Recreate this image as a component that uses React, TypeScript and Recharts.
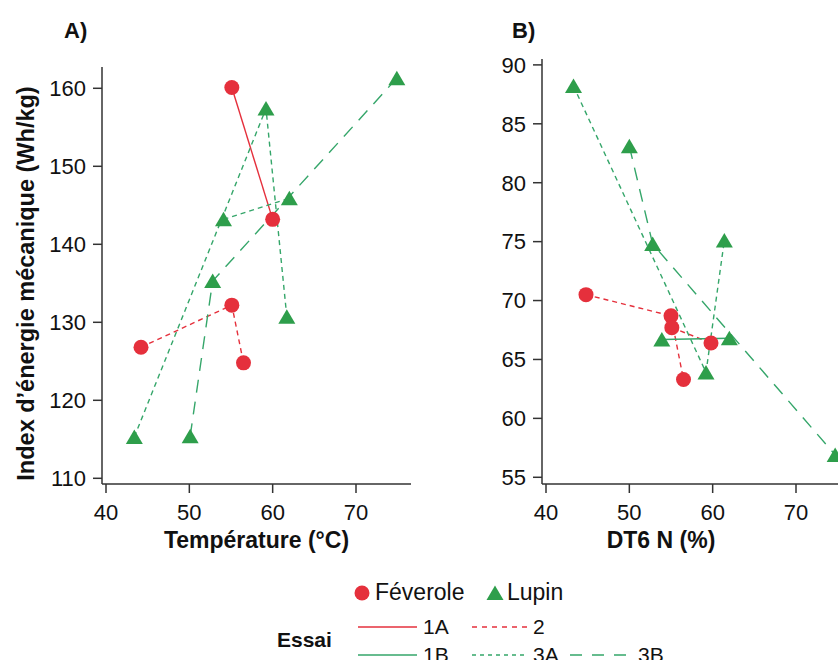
import { ScatterChart, Scatter, XAxis, YAxis } from "recharts";

// Féverole : 5 points, Lupin : 8 points (même ordre dans chaque tableau)
const feveroleTemp = [44.2, 55.1, 55.1, 56.5, 60.0];
const feveroleIndex = [126.8, 132.2, 160.1, 124.8, 143.2];
const feveroleDt6 = [44.8, 55.0, 55.1, 56.5, 59.8];
const feveroleB = [70.5, 68.7, 67.7, 63.3, 66.4];

const lupinTemp = [43.4, 50.1, 52.8, 54.1, 59.2, 61.7, 62.0, 74.9];
const lupinIndex = [115.3, 115.4, 135.3, 143.2, 157.4, 130.7, 145.9, 161.3];
const lupinDt6 = [43.3, 50.0, 52.8, 53.9, 59.2, 61.4, 62.0, 74.7];
const lupinB = [88.2, 83.1, 74.8, 66.7, 63.9, 75.1, 66.8, 56.9];

// essais : indices des points reliés
const essai1A = [2, 4];
const essai2 = [0, 1, 3];
const essai1B = [3, 6];
const essai3A = [0, 4, 5];
const essai3B = [1, 2, 7];

const xTicks = [40, 50, 60, 70];
const indexTicks = [110, 120, 130, 140, 150, 160];
const bTicks = [55, 60, 65, 70, 75, 80, 85, 90];

const RED = "#e5303c";
const GREEN = "#2e9e4b";
const GREEN_LINE = "#35a66a";
const AXIS = "#333";
const FONT = '"Liberation Sans", Arial, Helvetica, sans-serif';

const SOLID = undefined;
const SHORT = "5 4";
const LONG = "13 9";

const pts = (xs: number[], ys: number[], idx?: number[]) =>
  (idx ?? xs.map((_, i) => i)).map((i) => ({ x: xs[i], y: ys[i] }));

const Circle = (p: any) => <circle cx={p.cx} cy={p.cy} r={7.5} fill={RED} />;
const Tri = (p: any) => (
  <polygon points={`${p.cx},${p.cy - 7.5} ${p.cx + 8.5},${p.cy + 7} ${p.cx - 8.5},${p.cy + 7}`} fill={GREEN} />
);
const Nothing = () => <g />;

function XTitle({ viewBox, value, dx = 0 }: any) {
  const x = (viewBox?.x ?? 102) + (viewBox?.width ?? 309) / 2 + dx;
  const y = (viewBox?.y ?? 484) + 64;
  return (
    <text x={x} y={y} textAnchor="middle" fontSize={23} fontWeight="bold" fontFamily={FONT} fill="#111">
      {value}
    </text>
  );
}

function YTitle({ viewBox, value }: any) {
  const x = (viewBox?.x ?? 0) + 34;
  const y = (viewBox?.y ?? 67) + (viewBox?.height ?? 417) / 2 + 8;
  return (
    <text x={x} y={y} transform={`rotate(-90 ${x} ${y})`} textAnchor="middle" fontSize={23.5} fontWeight="bold" fontFamily={FONT} fill="#111">
      {value}
    </text>
  );
}

interface PanelProps {
  fx: number[];
  fy: number[];
  lx: number[];
  ly: number[];
  yDomain: [number, number];
  yTicks: number[];
  top: number;
  height: number;
  xTitle: any;
  yTitle?: any;
  styles: Record<string, string | undefined>;
}

function Panel({ fx, fy, lx, ly, yDomain, yTicks, top, height, xTitle, yTitle, styles }: PanelProps) {
  const lines = [
    { key: "1A", data: pts(fx, fy, essai1A), color: RED },
    { key: "2", data: pts(fx, fy, essai2), color: RED },
    { key: "1B", data: pts(lx, ly, essai1B), color: GREEN_LINE },
    { key: "3A", data: pts(lx, ly, essai3A), color: GREEN_LINE },
    { key: "3B", data: pts(lx, ly, essai3B), color: GREEN_LINE },
  ];
  const tick = { fill: "#111", fontSize: 22, fontFamily: FONT };
  return (
    <ScatterChart width={421} height={top + height + 80} margin={{ top, right: 10, left: 0, bottom: 0 }}>
      <XAxis
        type="number"
        dataKey="x"
        domain={[39.52, 76.6]}
        ticks={xTicks}
        tickSize={9}
        tickMargin={11}
        height={80}
        tick={tick}
        stroke={AXIS}
        strokeWidth={1.5}
        label={xTitle}
      />
      <YAxis
        type="number"
        dataKey="y"
        domain={yDomain}
        ticks={yTicks}
        tickSize={9}
        tickMargin={7}
        width={102}
        tick={tick}
        stroke={AXIS}
        strokeWidth={1.5}
        label={yTitle}
      />
      {lines.map((l) => (
        <Scatter
          key={l.key}
          data={l.data}
          fill={l.color}
          line={{ stroke: l.color, strokeWidth: 1.4, strokeDasharray: styles[l.key] }}
          shape={Nothing}
          isAnimationActive={false}
        />
      ))}
      <Scatter data={pts(lx, ly)} shape={Tri} isAnimationActive={false} />
      <Scatter data={pts(fx, fy)} shape={Circle} isAnimationActive={false} />
    </ScatterChart>
  );
}

const stylesA = { "1A": SOLID, "2": SHORT, "1B": SHORT, "3A": SHORT, "3B": LONG };
const stylesB = { "1A": SHORT, "2": SHORT, "1B": SOLID, "3A": SHORT, "3B": LONG };

export default function App() {
  const txt = { fontFamily: FONT, fill: "#111" };
  return (
    <div style={{ position: "absolute", left: 0, top: 0, width: 838, height: 660, overflow: "hidden", background: "#fff" }}>
      <div style={{ position: "absolute", left: 0, top: 0 }}>
        <Panel
          fx={feveroleTemp}
          fy={feveroleIndex}
          lx={lupinTemp}
          ly={lupinIndex}
          yDomain={[109.27, 162.73]}
          yTicks={indexTicks}
          top={67}
          height={417}
          xTitle={<XTitle value="Température (°C)" />}
          yTitle={<YTitle value="Index d’énergie mécanique (Wh/kg)" />}
          styles={stylesA}
        />
      </div>
      <div style={{ position: "absolute", left: 440, top: 0 }}>
        <Panel
          fx={feveroleDt6}
          fy={feveroleB}
          lx={lupinDt6}
          ly={lupinB}
          yDomain={[54.43, 90.5]}
          yTicks={bTicks}
          top={59}
          height={425}
          xTitle={<XTitle value="DT6 N (%)" dx={-35.5} />}
          styles={stylesB}
        />
      </div>
      <svg width={838} height={660} style={{ position: "absolute", left: 0, top: 0, pointerEvents: "none" }}>
        <text x={64} y={38} fontSize={22} fontWeight="bold" {...txt}>A)</text>
        <text x={512} y={38} fontSize={22} fontWeight="bold" {...txt}>B)</text>

        <circle cx={362} cy={593} r={7.5} fill={RED} />
        <text x={375} y={600} fontSize={23} {...txt}>Féverole</text>
        <polygon points="495,585.5 503.5,600 486.5,600" fill={GREEN} />
        <text x={507} y={600} fontSize={23} {...txt}>Lupin</text>

        <text x={277} y={647} fontSize={21} fontWeight="bold" {...txt}>Essai</text>

        <line x1={358} x2={417} y1={627} y2={627} stroke={RED} strokeWidth={1.4} />
        <text x={423} y={634} fontSize={21} {...txt}>1A</text>
        <line x1={472} x2={528} y1={627} y2={627} stroke={RED} strokeWidth={1.4} strokeDasharray="5 5" />
        <text x={533} y={634} fontSize={21} {...txt}>2</text>

        <line x1={358} x2={417} y1={655} y2={655} stroke={GREEN_LINE} strokeWidth={1.6} />
        <text x={423} y={662} fontSize={21} {...txt}>1B</text>
        <line x1={472} x2={528} y1={655} y2={655} stroke={GREEN_LINE} strokeWidth={1.4} strokeDasharray="4 4" />
        <text x={533} y={662} fontSize={21} {...txt}>3A</text>
        <line x1={570} x2={632} y1={655} y2={655} stroke={GREEN_LINE} strokeWidth={1.4} strokeDasharray="12 10" />
        <text x={638} y={662} fontSize={21} {...txt}>3B</text>
      </svg>
    </div>
  );
}
